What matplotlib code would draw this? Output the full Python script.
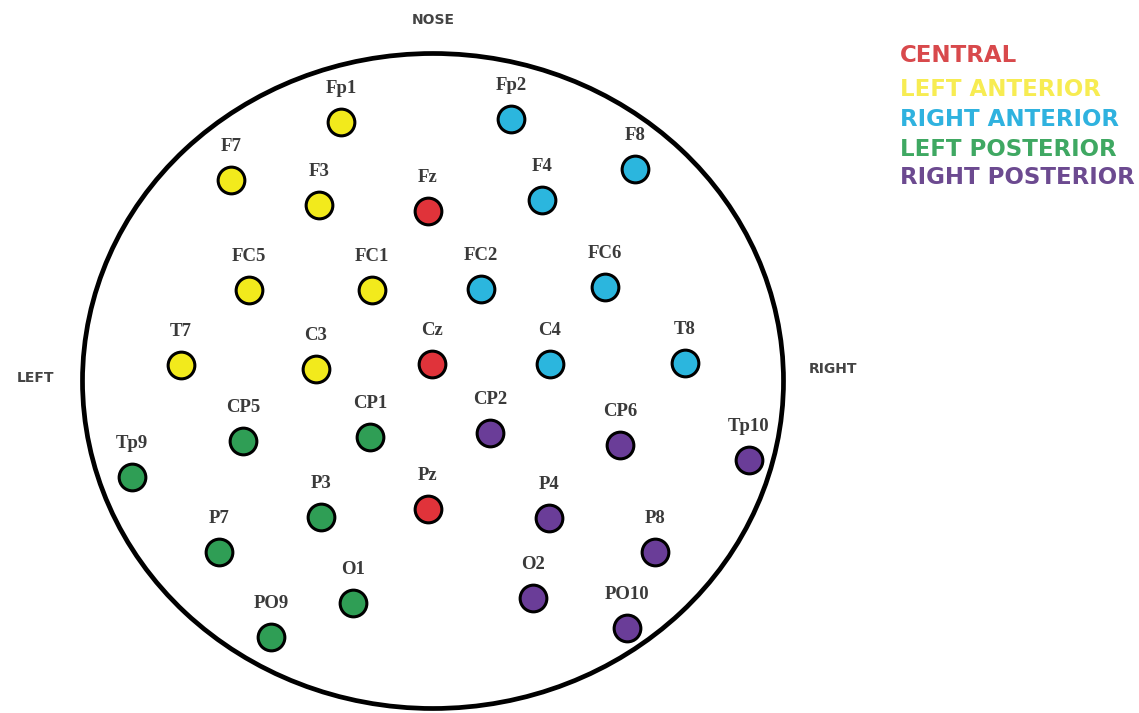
import matplotlib
matplotlib.use("Agg")
import matplotlib.pyplot as plt
from matplotlib.patches import Ellipse

# Electrode names, positions (image-pixel coordinates) and region groups
electrodes = ["Fp1", "Fp2", "F7", "F3", "Fz", "F4", "F8",
              "FC5", "FC1", "FC2", "FC6",
              "T7", "C3", "Cz", "C4", "T8",
              "CP5", "CP1", "CP2", "CP6", "Tp9", "Tp10",
              "P7", "P3", "Pz", "P4", "P8",
              "O1", "O2", "PO9", "PO10"]
x_pos = [341, 511, 231, 319, 428, 542, 635,
         249, 372, 481, 605,
         181, 316, 432, 550, 685,
         243, 370, 490, 620, 132, 749,
         219, 321, 428, 549, 655,
         353, 533, 271, 627]
y_pos = [122, 119, 180, 205, 211, 200, 169,
         290, 290, 289, 287,
         365, 369, 364, 364, 363,
         441, 437, 433, 445, 477, 460,
         552, 517, 509, 518, 552,
         603, 598, 637, 628]
region = ["LA", "RA", "LA", "LA", "C", "RA", "RA",
          "LA", "LA", "RA", "RA",
          "LA", "LA", "C", "RA", "RA",
          "LP", "LP", "RP", "RP", "LP", "RP",
          "LP", "LP", "C", "RP", "RP",
          "LP", "RP", "LP", "RP"]

region_keys = ["C", "LA", "RA", "LP", "RP"]
region_names = ["CENTRAL", "LEFT ANTERIOR", "RIGHT ANTERIOR", "LEFT POSTERIOR", "RIGHT POSTERIOR"]
fill_colors = {"C": "#e0333a", "LA": "#f2ea1c", "RA": "#2bb6de", "LP": "#2f9e55", "RP": "#6a3d98"}
text_colors = {"C": "#d8494c", "LA": "#f7ec52", "RA": "#2fb2df", "LP": "#3fa862", "RP": "#6c4a90"}

fig = plt.figure(figsize=(11.39, 7.13), dpi=100)
ax = fig.add_axes([0, 0, 1, 1])
ax.set_xlim(0, 1139)
ax.set_ylim(713, 0)
ax.axis("off")

# Head outline
ax.add_patch(Ellipse((433, 381), 701, 655, fill=False, lw=3.4, edgecolor="black"))

for key in region_keys:
    xs = [x for x, r in zip(x_pos, region) if r == key]
    ys = [y for y, r in zip(y_pos, region) if r == key]
    ax.scatter(xs, ys, s=370, c=fill_colors[key], edgecolors="black", linewidths=2.2, zorder=3)

for name, x, y in zip(electrodes, x_pos, y_pos):
    ax.annotate(name, (x, y), xytext=(0, 18), textcoords="offset points",
                ha="center", va="bottom", fontsize=13.5, family="Liberation Serif",
                fontweight="bold", color="#3a3a3a", zorder=4)

# Orientation labels
ax.text(433, 20, "NOSE", ha="center", va="center", fontsize=10, fontweight="bold", color="#444444")
ax.text(36, 378, "LEFT", ha="center", va="center", fontsize=10, fontweight="bold", color="#444444")
ax.text(833, 369, "RIGHT", ha="center", va="center", fontsize=10, fontweight="bold", color="#444444")

# Legend text
legend_y = [55, 89, 120, 149, 178]
for key, name, ly in zip(region_keys, region_names, legend_y):
    ax.text(900, ly, name, ha="left", va="center", fontsize=16.5, fontweight="bold",
            color=text_colors[key])

fig.savefig("out.png", dpi=100, facecolor="white")
